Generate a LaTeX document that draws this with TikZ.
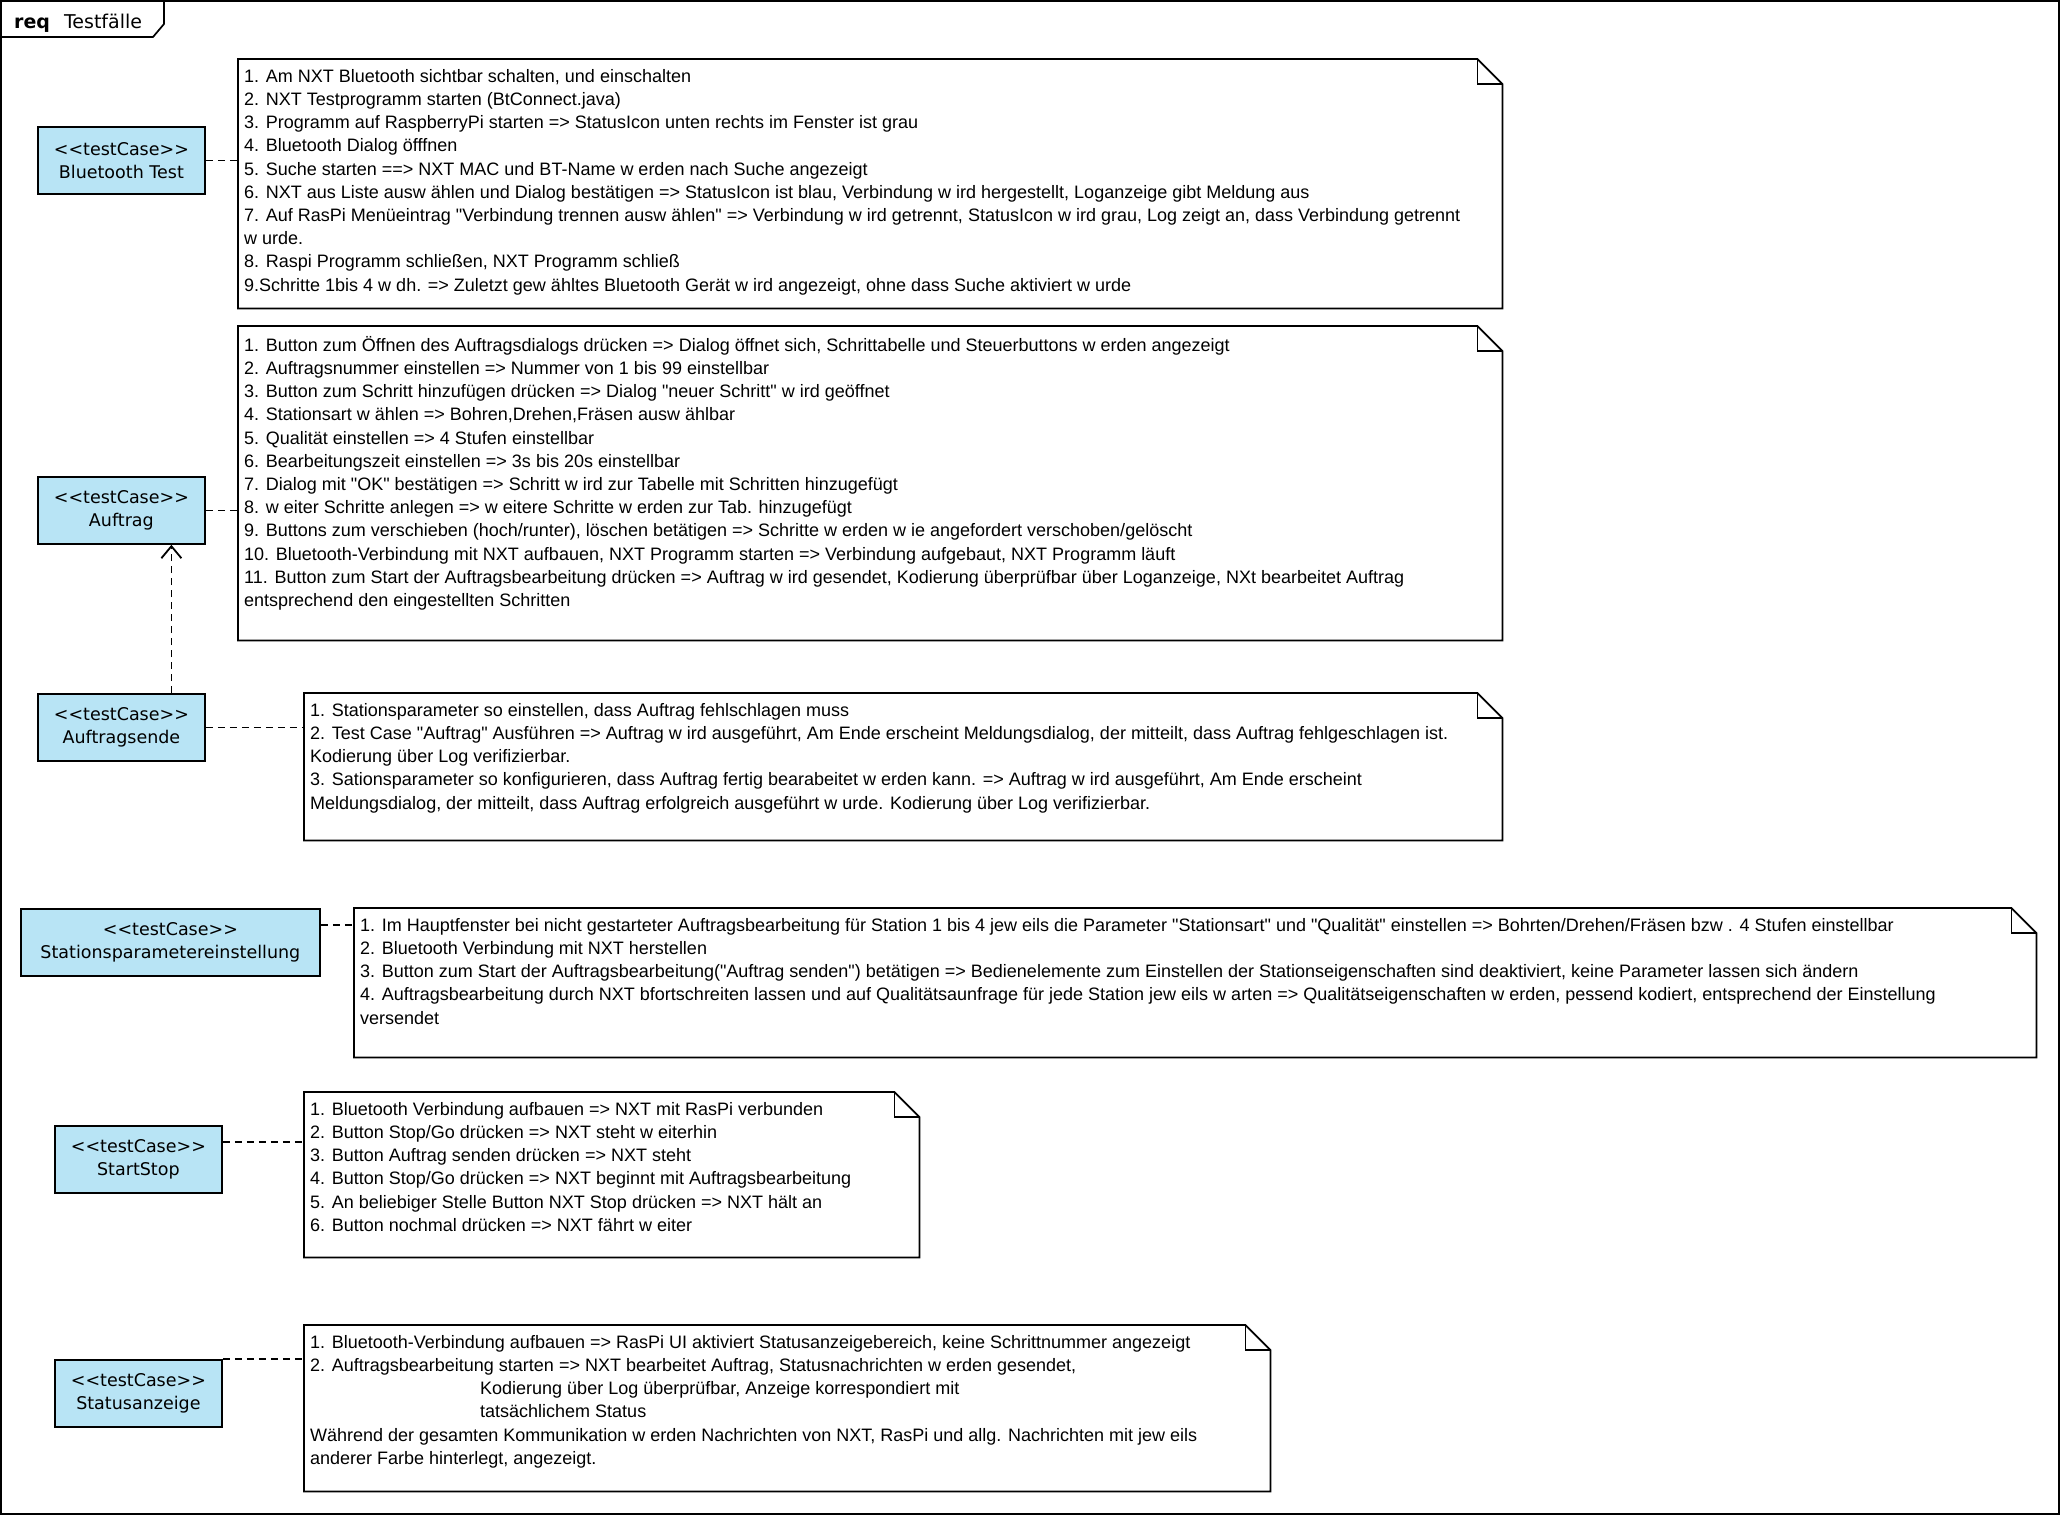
\documentclass[tikz,border=0pt]{standalone}
\usepackage{fontspec}
\newfontfamily\arialf{Liberation Sans}
\newfontfamily\dejavu{DejaVu Sans}
\usetikzlibrary{arrows.meta,calc}
\definecolor{tcfill}{RGB}{184,228,245}
\newcommand{\mknote}[5]{%
  \node[notebg, minimum width=#4pt, minimum height=#5pt] (#1) at (#2,#3) {};
  \draw[noteline] (#1.north west) -- ([xshift=-25pt]#1.north east) -- ([yshift=-25pt]#1.north east) -- (#1.south east) -- (#1.south west) -- cycle;
  \draw[noteline, fill=none] ([xshift=-25pt]#1.north east) -- ([xshift=-25pt,yshift=-25pt]#1.north east) -- ([yshift=-25pt]#1.north east);
}
\begin{document}
\begin{tikzpicture}[x=1pt,y=-1pt,
  tc/.style={draw=black, line width=1.8pt, fill=tcfill, minimum width=167pt, minimum height=67pt, inner sep=0pt, align=center, font=\dejavu\fontsize{17.5}{23.5}\selectfont, anchor=north west},
  notebg/.style={inner sep=0pt, anchor=north west},
  noteline/.style={draw=black, line width=1.7pt, fill=white, line join=miter},
  notetext/.style={inner sep=0pt, anchor=north west, align=left, font=\arialf\fontsize{18}{23.2}\selectfont},
  dep/.style={draw=black, line width=1.8pt, dash pattern=on 7pt off 5pt}]
\useasboundingbox (0,0) rectangle (2061,1516);
\fill[white] (0,0) rectangle (2061,1516);
\draw[line width=1.7pt] (1,1) rectangle (2059,1514);
\draw[line width=1.7pt] (1,37) -- (153,37) -- (164,24) -- (164,1);
\node[anchor=base west, inner sep=0pt, font=\dejavu\fontsize{19}{23}\selectfont] (title) at (14,28) {\textbf{req}\hspace{14pt}Testfälle};

% notes
\mknote{n1}{238}{59}{1264}{249}
\mknote{n2}{238}{326}{1264}{314}
\mknote{n3}{304}{693}{1198}{147}
\mknote{n4}{354}{908}{1682}{149}
\mknote{n5}{304}{1092}{615}{165}
\mknote{n6}{304}{1325}{966}{166}

\node[notetext] (t1) at ([xshift=6pt,yshift=-10pt]n1.north west) {%
1. Am NXT Bluetooth sichtbar schalten, und einschalten\\
2. NXT Testprogramm starten (BtConnect.java)\\
3. Programm auf RaspberryPi starten => StatusIcon unten rechts im Fenster ist grau\\
4. Bluetooth Dialog öfffnen\\
5. Suche starten ==> NXT MAC und BT-Name w erden nach Suche angezeigt\\
6. NXT aus Liste ausw ählen und Dialog bestätigen => StatusIcon ist blau, Verbindung w ird hergestellt, Loganzeige gibt Meldung aus\\
7. Auf RasPi Menüeintrag "Verbindung trennen ausw ählen" => Verbindung w ird getrennt, StatusIcon w ird grau, Log zeigt an, dass Verbindung getrennt\\
w urde.\\
8. Raspi Programm schließen, NXT Programm schließ\\
9.Schritte 1bis 4 w dh. => Zuletzt gew ähltes Bluetooth Gerät w ird angezeigt, ohne dass Suche aktiviert w urde};

\node[notetext] (t2) at ([xshift=6pt,yshift=-10pt]n2.north west) {%
1. Button zum Öffnen des Auftragsdialogs drücken => Dialog öffnet sich, Schrittabelle und Steuerbuttons w erden angezeigt\\
2. Auftragsnummer einstellen => Nummer von 1 bis 99 einstellbar\\
3. Button zum Schritt hinzufügen drücken => Dialog "neuer Schritt" w ird geöffnet\\
4. Stationsart w ählen => Bohren,Drehen,Fräsen ausw ählbar\\
5. Qualität einstellen => 4 Stufen einstellbar\\
6. Bearbeitungszeit einstellen => 3s bis 20s einstellbar\\
7. Dialog mit "OK" bestätigen => Schritt w ird zur Tabelle mit Schritten hinzugefügt\\
8. w eiter Schritte anlegen => w eitere Schritte w erden zur Tab. hinzugefügt\\
9. Buttons zum verschieben (hoch/runter), löschen betätigen => Schritte w erden w ie angefordert verschoben/gelöscht\\
10. Bluetooth-Verbindung mit NXT aufbauen, NXT Programm starten => Verbindung aufgebaut, NXT Programm läuft\\
11. Button zum Start der Auftragsbearbeitung drücken => Auftrag w ird gesendet, Kodierung überprüfbar über Loganzeige, NXt bearbeitet Auftrag\\
entsprechend den eingestellten Schritten};

\node[notetext] (t3) at ([xshift=6pt,yshift=-10pt]n3.north west) {%
1. Stationsparameter so einstellen, dass Auftrag fehlschlagen muss\\
2. Test Case "Auftrag" Ausführen => Auftrag w ird ausgeführt, Am Ende erscheint Meldungsdialog, der mitteilt, dass Auftrag fehlgeschlagen ist.\\
Kodierung über Log verifizierbar.\\
3. Sationsparameter so konfigurieren, dass Auftrag fertig bearabeitet w erden kann. => Auftrag w ird ausgeführt, Am Ende erscheint\\
Meldungsdialog, der mitteilt, dass Auftrag erfolgreich ausgeführt w urde. Kodierung über Log verifizierbar.};

\node[notetext] (t4) at ([xshift=6pt,yshift=-10pt]n4.north west) {%
1. Im Hauptfenster bei nicht gestarteter Auftragsbearbeitung für Station 1 bis 4 jew eils die Parameter "Stationsart" und "Qualität" einstellen => Bohrten/Drehen/Fräsen bzw . 4 Stufen einstellbar\\
2. Bluetooth Verbindung mit NXT herstellen\\
3. Button zum Start der Auftragsbearbeitung("Auftrag senden") betätigen => Bedienelemente zum Einstellen der Stationseigenschaften sind deaktiviert, keine Parameter lassen sich ändern\\
4. Auftragsbearbeitung durch NXT bfortschreiten lassen und auf Qualitätsaunfrage für jede Station jew eils w arten => Qualitätseigenschaften w erden, pessend kodiert, entsprechend der Einstellung\\
versendet};

\node[notetext] (t5) at ([xshift=6pt,yshift=-10pt]n5.north west) {%
1. Bluetooth Verbindung aufbauen => NXT mit RasPi verbunden\\
2. Button Stop/Go drücken => NXT steht w eiterhin\\
3. Button Auftrag senden drücken => NXT steht\\
4. Button Stop/Go drücken => NXT beginnt mit Auftragsbearbeitung\\
5. An beliebiger Stelle Button NXT Stop drücken => NXT hält an\\
6. Button nochmal drücken => NXT fährt w eiter};

\node[notetext] (t6) at ([xshift=6pt,yshift=-10pt]n6.north west) {%
1. Bluetooth-Verbindung aufbauen => RasPi UI aktiviert Statusanzeigebereich, keine Schrittnummer angezeigt\\
2. Auftragsbearbeitung starten => NXT bearbeitet Auftrag, Statusnachrichten w erden gesendet,\\
\hspace*{170pt}Kodierung über Log überprüfbar, Anzeige korrespondiert mit\\
\hspace*{170pt}tatsächlichem Status\\
Während der gesamten Kommunikation w erden Nachrichten von NXT, RasPi und allg. Nachrichten mit jew eils\\
anderer Farbe hinterlegt, angezeigt.};

% test cases
\node[tc] (bt) at (37,126) {<<testCase>>\\Bluetooth Test};
\node[tc] (auf) at (37,476) {<<testCase>>\\Auftrag};
\node[tc] (ae) at (37,693) {<<testCase>>\\Auftragsende};
\node[tc, minimum width=299pt] (sp) at (20,908) {<<testCase>>\\Stationsparametereinstellung};
\node[tc] (ss) at (54,1125) {<<testCase>>\\StartStop};
\node[tc] (sa) at (54,1359) {<<testCase>>\\Statusanzeige};

% connectors
\draw[dep] (bt.east) -- (bt.east -| n1.west);
\draw[dep] (auf.east) -- (auf.east -| n2.west);
\draw[dep] (ae.east) -- (ae.east -| n3.west);
\draw[dep] ([yshift=-17pt]sp.north east) -- ([yshift=-17pt]sp.north east -| n4.west);
\draw[dep] ([yshift=-17pt]ss.north east) -- ([yshift=-17pt]ss.north east -| n5.west);
\draw[dep] (sa.north east) -- (sa.north east -| n6.west);
\draw[dep, -{Straight Barb[length=12pt,width=20pt]}] ([xshift=50pt]ae.north) -- ([xshift=50pt]auf.south);
\end{tikzpicture}
\end{document}
